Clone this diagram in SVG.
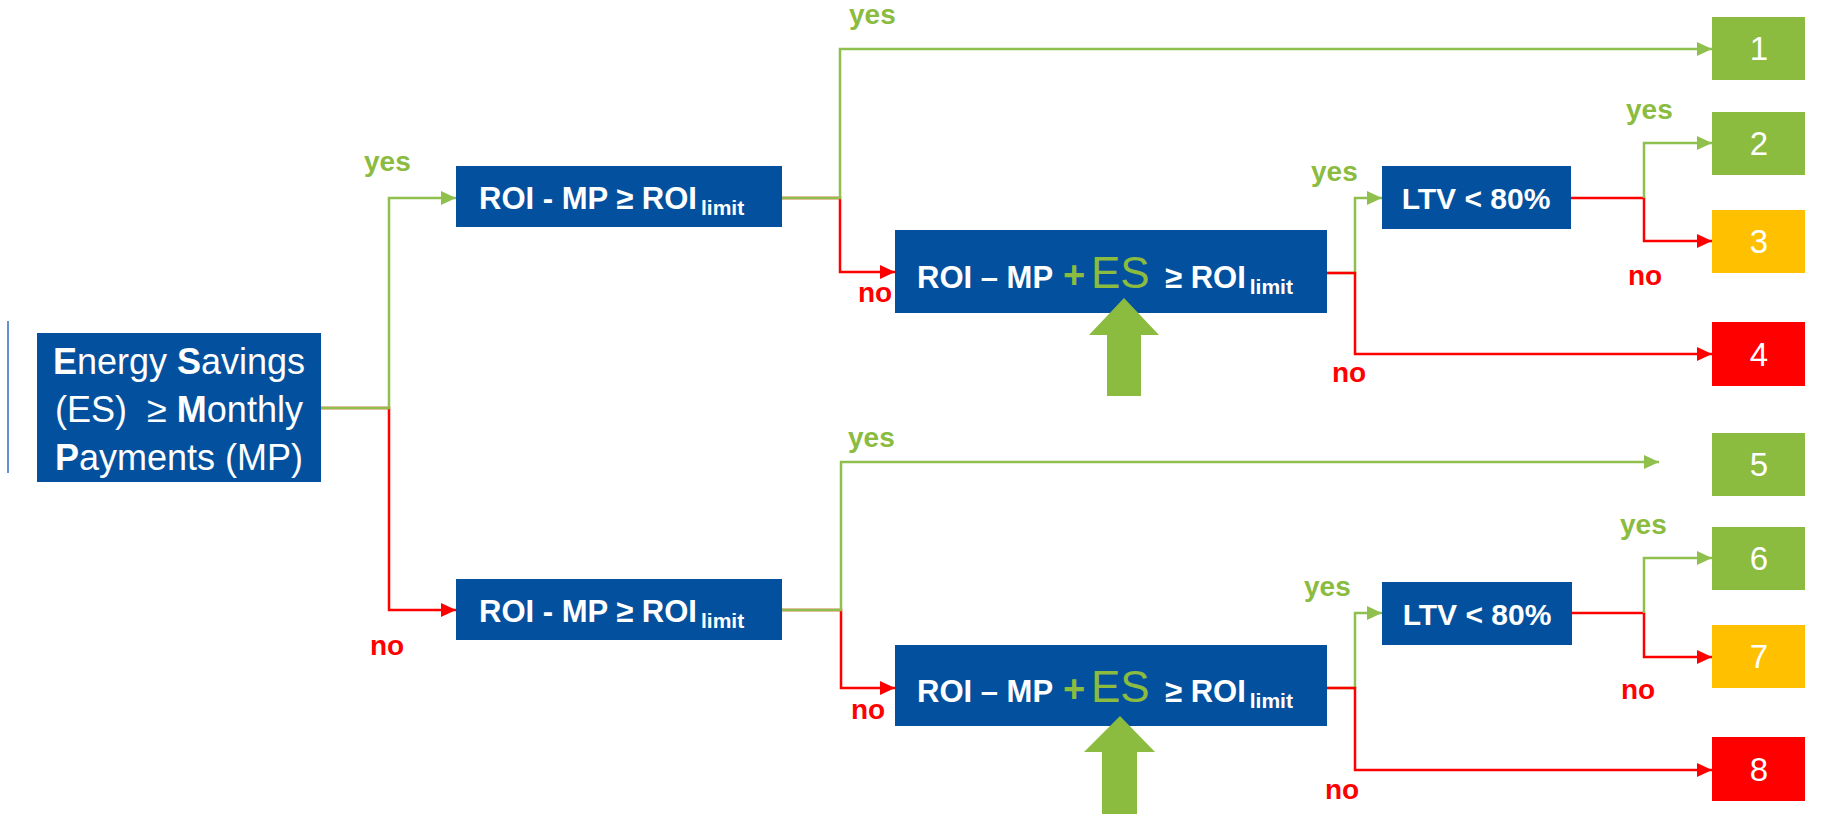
<svg xmlns="http://www.w3.org/2000/svg" width="1825" height="829" viewBox="0 0 1825 829">
<style>
.blue{fill:#03519E}
.g{fill:#8BBB3F}
.y{fill:#FFC000}
.r{fill:#FF0000}
.t{font-family:"Liberation Sans",Arial,sans-serif;fill:#fff}
.b{font-weight:bold}
.num{font-family:"Liberation Sans",Arial,sans-serif;fill:#fff;font-size:33px;text-anchor:middle}
.lg{font-family:"Liberation Sans",Arial,sans-serif;font-weight:bold;font-size:28px;fill:#8BBB3F}
.lr{font-family:"Liberation Sans",Arial,sans-serif;font-weight:bold;font-size:28px;fill:#FF0000}
.cg{fill:none;stroke:#8FC04E;stroke-width:2.5}
.cr{fill:none;stroke:#FF0000;stroke-width:2.5}
</style>
<defs>
<marker id="ag" markerUnits="userSpaceOnUse" markerWidth="15" markerHeight="14" refX="15" refY="7" orient="auto"><path d="M0,0 L15,7 L0,14 z" fill="#8FC04E"/></marker>
<marker id="ar" markerUnits="userSpaceOnUse" markerWidth="15" markerHeight="14" refX="15" refY="7" orient="auto"><path d="M0,0 L15,7 L0,14 z" fill="#FF0000"/></marker>
</defs>
<rect width="1825" height="829" fill="#fff"/>
<line x1="8" y1="321" x2="8" y2="473" stroke="#2E6FC0" stroke-width="1.5"/>

<g id="connectors">
<path class="cr" d="M321,408 H389 V610 H456" marker-end="url(#ar)"/>
<path class="cg" d="M321,408 H389 V198 H456" marker-end="url(#ag)"/>
<path class="cr" d="M782,198 H840 V272 H895" marker-end="url(#ar)"/>
<path class="cg" d="M782,198 H840 V49 H1712" marker-end="url(#ag)"/>
<path class="cg" d="M1327,273 H1355 V198 H1382" marker-end="url(#ag)"/>
<path class="cr" d="M1327,273 H1355 V354 H1712" marker-end="url(#ar)"/>
<path class="cr" d="M1571,198 H1644 V241 H1712" marker-end="url(#ar)"/>
<path class="cg" d="M1644,198 V143 H1712" marker-end="url(#ag)"/>
<path class="cr" d="M782,610 H841 V688 H895" marker-end="url(#ar)"/>
<path class="cg" d="M782,610 H841 V462 H1659" marker-end="url(#ag)"/>
<path class="cg" d="M1327,688 H1355 V613 H1382" marker-end="url(#ag)"/>
<path class="cr" d="M1327,688 H1355 V770 H1712" marker-end="url(#ar)"/>
<path class="cr" d="M1572,613 H1644 V657 H1712" marker-end="url(#ar)"/>
<path class="cg" d="M1644,613 V558 H1712" marker-end="url(#ag)"/>
</g>

<g id="labels">
<text class="lg" x="849" y="24">yes</text>
<text class="lg" x="364" y="171">yes</text>
<text class="lr" x="858" y="302">no</text>
<text class="lg" x="1311" y="181">yes</text>
<text class="lr" x="1332" y="382">no</text>
<text class="lg" x="1626" y="119">yes</text>
<text class="lr" x="1628" y="285">no</text>
<text class="lg" x="848" y="447">yes</text>
<text class="lr" x="370" y="655">no</text>
<text class="lr" x="851" y="719">no</text>
<text class="lg" x="1304" y="596">yes</text>
<text class="lr" x="1325" y="799">no</text>
<text class="lg" x="1620" y="534">yes</text>
<text class="lr" x="1621" y="699">no</text>
</g>

<g id="start">
<rect class="blue" x="37" y="333" width="284" height="149"/>
<text class="t" font-size="36" text-anchor="middle" x="179" y="374"><tspan class="b">E</tspan>nergy <tspan class="b">S</tspan>avings</text>
<text class="t" font-size="36" text-anchor="middle" x="179" y="422" xml:space="preserve">(ES)  ≥ <tspan class="b">M</tspan>onthly</text>
<text class="t" font-size="36" text-anchor="middle" x="179" y="470"><tspan class="b">P</tspan>ayments (MP)</text>
</g>

<g id="roi1">
<rect class="blue" x="456" y="166" width="326" height="61"/>
<text class="t b" font-size="31" x="479" y="209">ROI - MP ≥ ROI<tspan font-size="21" dx="4" dy="6">limit</tspan></text>
</g>

<g id="roi2">
<rect class="blue" x="456" y="579" width="326" height="61"/>
<text class="t b" font-size="31" x="479" y="622">ROI - MP ≥ ROI<tspan font-size="21" dx="4" dy="6">limit</tspan></text>
</g>

<g id="roies1">
<rect class="blue" x="895" y="230" width="432" height="83"/>
<text class="t b" font-size="31" x="917" y="288">ROI – MP</text>
<text class="b" font-family="Liberation Sans,Arial,sans-serif" font-size="38" fill="#8BBB3F" x="1063" y="288">+</text>
<text font-family="Liberation Sans,Arial,sans-serif" font-size="44" fill="#8BBB3F" x="1091" y="288">ES</text>
<text class="t b" font-size="31" x="1165" y="288">≥ ROI<tspan font-size="21" dx="4" dy="6">limit</tspan></text>
<polygon class="g" points="1124,298 1159,335 1141,335 1141,396 1107,396 1107,335 1089,335"/>
</g>

<g id="roies2">
<rect class="blue" x="895" y="645" width="432" height="81"/>
<text class="t b" font-size="31" x="917" y="702">ROI – MP</text>
<text class="b" font-family="Liberation Sans,Arial,sans-serif" font-size="38" fill="#8BBB3F" x="1063" y="702">+</text>
<text font-family="Liberation Sans,Arial,sans-serif" font-size="44" fill="#8BBB3F" x="1091" y="702">ES</text>
<text class="t b" font-size="31" x="1165" y="702">≥ ROI<tspan font-size="21" dx="4" dy="6">limit</tspan></text>
<polygon class="g" points="1120,716 1155,752 1137,752 1137,814 1102,814 1102,752 1084,752"/>
</g>

<g id="ltv1">
<rect class="blue" x="1382" y="166" width="189" height="63"/>
<text class="t b" font-size="30" x="1476" y="209" text-anchor="middle">LTV &lt; 80%</text>
</g>
<g id="ltv2">
<rect class="blue" x="1382" y="582" width="190" height="63"/>
<text class="t b" font-size="30" x="1477" y="625" text-anchor="middle">LTV &lt; 80%</text>
</g>

<g id="out1"><rect class="g" x="1712" y="17" width="93" height="63"/><text class="num" x="1759" y="60">1</text></g>
<g id="out2"><rect class="g" x="1712" y="112" width="93" height="63"/><text class="num" x="1759" y="155">2</text></g>
<g id="out3"><rect class="y" x="1712" y="210" width="93" height="63"/><text class="num" x="1759" y="253">3</text></g>
<g id="out4"><rect class="r" x="1712" y="322" width="93" height="64"/><text class="num" x="1759" y="366">4</text></g>
<g id="out5"><rect class="g" x="1712" y="433" width="93" height="63"/><text class="num" x="1759" y="476">5</text></g>
<g id="out6"><rect class="g" x="1712" y="527" width="93" height="63"/><text class="num" x="1759" y="570">6</text></g>
<g id="out7"><rect class="y" x="1712" y="625" width="93" height="63"/><text class="num" x="1759" y="668">7</text></g>
<g id="out8"><rect class="r" x="1712" y="737" width="93" height="64"/><text class="num" x="1759" y="781">8</text></g>
</svg>
